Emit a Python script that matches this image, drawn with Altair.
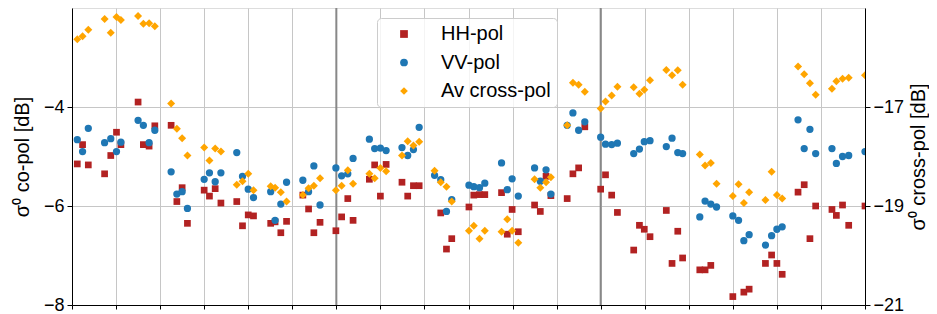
import altair as alt
import pandas as pd

# ---- data ----
x_pos = [
    0.12, 0.24, 0.37,
    0.74, 0.88, 1.01, 1.11,
    1.50, 1.62, 1.75, 1.88,
    2.25, 2.38, 2.50, 2.62,
    3.00, 3.12, 3.25, 3.38,
    3.74, 3.87, 4.00, 4.12,
    4.51, 4.61, 4.74, 4.87,
    5.24, 5.37, 5.49, 5.63,
    5.99, 6.12, 6.26, 6.38,
    6.75, 6.87, 7.00, 7.13,
    7.49, 7.62, 7.75, 7.88,
    8.23, 8.37, 8.50, 8.62,
    9.01, 9.12, 9.25, 9.37,
    9.75, 9.88, 9.99, 10.13,
    10.50, 10.63, 10.76, 10.87,
    11.24, 11.37, 11.50, 11.64,
    12.00, 12.11, 12.25, 12.38,
    12.75, 12.88, 12.99, 13.12,
    13.49, 13.62, 13.75, 13.86,
    14.25, 14.37, 14.50, 14.63,
    15.00, 15.13, 15.25, 15.37,
    15.74, 15.88, 16.00, 16.12,
    16.48, 16.62, 16.75, 16.88,
    17.25, 17.35, 17.49, 17.63,
    18.00,
]

hh_pol = [
    -5.15, -4.76, -5.17,
    -5.35, -4.98, -4.51, -4.76,
    -3.90, -4.76, -4.79, -4.38,
    -4.37, -5.91, -5.63, -6.35,
    -5.68, -5.80, -5.65, -5.94,
    -5.91, -6.40, -6.18, -6.20,
    -6.35, -6.32, -6.54, -6.31,
    -5.78, -6.06, -6.54, -6.33,
    -6.50, -6.22, -5.85, -6.29,
    -5.46, -5.17, -5.80, -5.16,
    -5.52, -5.80, -5.59, -5.59,
    None, -6.14, -6.87, -6.66,
    -6.02, -5.78, -5.77, -5.77,
    -5.73, -6.57, -6.07, -6.52,
    -5.98, -6.11, -5.40, -5.79,
    -5.85, -5.35, -5.23, -4.40,
    -5.66, -5.37, -5.78, -6.13,
    -6.89, -6.39, -6.47, -6.62,
    -6.09, -7.16, -6.51, -7.05,
    -7.29, -7.29, -7.20, None,
    -7.83, None, -7.74, -7.68,
    -7.16, -6.99, -7.16, -7.38,
    -5.72, -5.57, -6.66, -6.00,
    -6.07, -6.19, -5.98, -6.39,
    -6.00,
]

vv_pol = [
    -4.66, -4.90, -4.43,
    -4.72, -4.64, -4.90, -4.71,
    -4.27, -4.37, -4.72, -4.47,
    -5.31, -5.76, -5.71, -6.05,
    -5.46, -5.33, -5.51, -5.33,
    -4.92, -5.40, -5.66, -5.83,
    -5.71, -6.29, -5.96, -5.52,
    -5.48, -5.71, -5.19, -5.98,
    -5.23, -5.39, -5.35, -5.04,
    -4.65, -4.84, -4.83, -4.88,
    -4.82, -4.98, -4.86, -4.41,
    -5.38, -5.47, -6.11, -5.87,
    -5.58, -5.61, -5.63, -5.54,
    -5.13, -5.67, -5.45, -5.80,
    -5.23, -5.50, -5.27, -5.76,
    -4.37, -4.12, -4.47, -4.30,
    -4.61, -4.75, -4.76, -4.73,
    -4.94, -4.85, -4.70, -4.68,
    -4.80, -4.63, -4.92, -4.94,
    -6.22, -5.90, -5.96, -6.02,
    -6.20, -6.29, -6.70, -6.58,
    -6.79, -6.60, -6.47, -6.42,
    -4.26, -4.84, -4.45, -4.94,
    -4.84, -5.14, -5.00, -4.98,
    -4.90,
]

cross_pol = [
    -15.63, -15.57, -15.44,
    -15.22, -15.50, -15.18, -15.24,
    -15.16, -15.32, -15.31, -15.37,
    -16.93, -17.44, -17.63, -17.98,
    -17.82, -18.08, -17.84, -17.90,
    -18.57, -18.50, -18.35, -18.68,
    -18.60, -18.63, -18.72, -18.91,
    -18.78, -18.64, -18.59, -18.44,
    -18.68, -18.59, -18.28, -18.55,
    -18.35, -18.44, -18.23, -18.30,
    -17.98, -17.69, -17.78, -17.70,
    -18.29, -18.52, -18.61, -18.91,
    -19.50, -19.40, -19.66, -19.50,
    -19.52, -19.27, -19.50, -19.74,
    -18.46, -18.63, -18.52, -18.42,
    -17.37, -16.51, -16.55, -16.69,
    -17.03, -16.89, -16.77, -16.59,
    -16.60, -16.73, -16.65, -16.46,
    -16.25, -16.36, -16.26, -16.55,
    -17.96, -18.18, -18.13, -18.55,
    -18.80, -18.56, -18.94, -18.72,
    -18.88, -18.31, -18.78, -18.85,
    -16.18, -16.34, -16.52, -16.75,
    -16.63, -16.48, -16.43, -16.41,
    -16.36,
]

boundaries = [6, 12]
series_names = ["HH-pol", "VV-pol", "Av cross-pol"]
series_colors = ["#b22222", "#1f77b4", "#ffa500"]
series_shapes = ["square", "circle", "diamond"]
x_ticks = list(range(0, 19))
co_ticks = [-8, -6, -4]
cross_ticks = [-21, -19, -17]
title_text = "(a) L-band backscatter"

# ---- tables ----
hh_df = pd.DataFrame({"x": x_pos, "value": hh_pol, "series": "HH-pol"}).dropna()
vv_df = pd.DataFrame({"x": x_pos, "value": vv_pol, "series": "VV-pol"}).dropna()
cr_df = pd.DataFrame({"x": x_pos, "value": cross_pol, "series": "Av cross-pol"}).dropna()
bd_df = pd.DataFrame({"x": boundaries})

FONT = "Liberation Sans"
GRID = "#c6c6c6"

x_scale = alt.Scale(domain=[0, 18], nice=False, zero=False)

legend = alt.Legend(
    title=" ", titleOrient="left", titleFontSize=1, titlePadding=11,
    orient="none", legendX=305, legendY=10, direction="vertical",
    fillColor="rgba(255,255,255,0.8)", strokeColor="#cccccc", cornerRadius=4,
    padding=6, symbolSize=60, symbolStrokeWidth=0,
    symbolOffset=0, labelOffset=27, labelFontSize=20, labelFont=FONT, labelColor="black",
    rowPadding=8.5,
)
color = alt.Color("series:N", scale=alt.Scale(domain=series_names, range=series_colors), legend=legend)
shape = alt.Shape("series:N", scale=alt.Scale(domain=series_names, range=series_shapes), legend=legend)

x_axis = alt.Axis(values=x_ticks, labels=False, title=None, tickSize=4, tickColor="black",
                  domainColor="black", grid=True, gridColor=GRID, gridWidth=1)

co_axis = alt.Axis(values=co_ticks, title="σ⁰ co-pol [dB]", orient="left",
                   labelFontSize=18, labelFont=FONT, labelColor="black", labelPadding=3,
                   tickSize=5, tickColor="black", domainColor="black",
                   grid=True, gridColor=GRID, gridWidth=1,
                   titleFontSize=20, titleFont=FONT, titleFontWeight="normal", titleColor="black",
                   titleAngle=270, titleBaseline="alphabetic", titleAlign="center",
                   titleX=-44, titleY=148.5)
cross_axis = alt.Axis(values=cross_ticks, title="σ⁰ cross-pol [dB]", orient="right",
                      labelFontSize=18, labelFont=FONT, labelColor="black", labelPadding=3,
                      tickSize=5, tickColor="black", domainColor="black", grid=False,
                      titleFontSize=20, titleFont=FONT, titleFontWeight="normal", titleColor="black",
                      titleAngle=270, titleBaseline="alphabetic", titleAlign="center",
                      titleX=59, titleY=148.5)

co_y = alt.Y("value:Q", scale=alt.Scale(domain=[-8, -2], nice=False, zero=False), axis=co_axis)
cross_y = alt.Y("value:Q", scale=alt.Scale(domain=[-21, -15], nice=False, zero=False), axis=cross_axis)

rules = alt.Chart(bd_df).mark_rule(color="#888888", strokeWidth=2).encode(
    x=alt.X("x:Q", scale=x_scale, axis=x_axis)
)
hh_layer = alt.Chart(hh_df).mark_point(filled=True, size=45, opacity=1, clip=True).encode(
    x=alt.X("x:Q", scale=x_scale, axis=x_axis), y=co_y, color=color, shape=shape
)
vv_layer = alt.Chart(vv_df).mark_point(filled=True, size=53, opacity=1, clip=True).encode(
    x=alt.X("x:Q", scale=x_scale, axis=x_axis), y=co_y, color=color, shape=shape
)
cr_layer = alt.Chart(cr_df).mark_point(filled=True, size=64, opacity=1, clip=True).encode(
    x=alt.X("x:Q", scale=x_scale, axis=x_axis), y=cross_y, color=color, shape=shape
)

co_group = alt.layer(rules, hh_layer, vv_layer)

chart = alt.layer(co_group, cr_layer).resolve_scale(y="independent").properties(
    width=793, height=297,
    title=alt.TitleParams(title_text, fontSize=24, font=FONT, fontWeight="normal",
                          color="black", anchor="middle", offset=4),
    autosize=alt.AutoSizeParams(type="none"),
    padding={"left": 64, "top": 0, "right": 64, "bottom": 8},
).configure_view(stroke="black", strokeWidth=1).configure(background="white")

chart.save("out.html", embed_options={"renderer": "svg", "actions": False})
